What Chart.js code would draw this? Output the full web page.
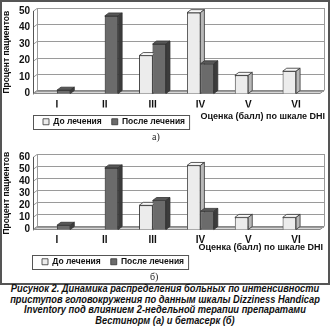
<!DOCTYPE html>
<html>
<head>
<meta charset="utf-8">
<script src="https://cdn.jsdelivr.net/npm/chart.js@4/dist/chart.umd.min.js"></script>
<style>
body { margin: 0; background: #fff; width: 330px; height: 328px; overflow: hidden; position: relative; font-family: "Liberation Sans", Arial, sans-serif; }
#frame { position: absolute; left: 0; top: 0; width: 330px; height: 285px; box-sizing: border-box; border: 2px solid #555; }
canvas { position: absolute; left: 0; }
#chartA { top: 0; }
#chartB { top: 142px; }
.sub { position: absolute; font: 10px "Liberation Serif", serif; color: #222; }
#cap { position: absolute; left: -20px; top: 284px; width: 370px; text-align: center; white-space: nowrap; font: italic bold 10px "Liberation Sans", Arial, sans-serif; line-height: 10.5px; color: #111; transform: scaleX(0.93); transform-origin: 185px 0; }
</style>
</head>
<body>
<div id="frame"></div>
<canvas id="chartA" width="330" height="136"></canvas>
<canvas id="chartB" width="330" height="134"></canvas>
<div class="sub" style="left:152px;top:131px">а)</div>
<div class="sub" style="left:150px;top:271px">б)</div>
<div id="cap">Рисунок 2. Динамика распределения больных по интенсивности<br>приступов головокружения по данным шкалы Dizziness Handicap<br>Inventory под влиянием 2-недельной терапии препаратами<br>Вестинорм (а) и бетасерк (б)</div>
<script>
const categories = ['I', 'II', 'III', 'IV', 'V', 'VI']
const seriesNames = ['До лечения', 'После лечения']
const beforeA = [0, 0, 23, 49, 11, 13.5]
const afterA = [2, 47, 30, 18, 0, 0]
const beforeB = [0, 0, 20, 53, 10, 10]
const afterB = [3.5, 51, 24, 15, 0, 0]
const ticksA = [0, 10, 20, 30, 40, 50]
const ticksB = [0, 10, 20, 30, 40, 50, 60]
const yTitle = 'Процент пациентов'
const xTitle = 'Оценка (балл) по шкале DHI'

Chart.defaults.font.family = '"Liberation Sans", Arial, sans-serif'
Chart.defaults.color = '#111'

const light = { front: '#ececec', top: '#f8f8f8', side: '#b8b8b8' }
const dark = { front: '#6b6b6b', top: '#585858', side: '#3c3c3c' }
const DX = 4
const DY = 3

function poly(ctx, pts, fill) {
	ctx.beginPath()
	ctx.moveTo(pts[0][0], pts[0][1])
	pts.slice(1).forEach(p => ctx.lineTo(p[0], p[1]))
	ctx.closePath()
	ctx.fillStyle = fill
	ctx.fill()
	ctx.stroke()
}

// walls, floor and the 3d sides of the columns
const depth = {
	id: 'depth',
	afterLayout(chart) {
		const lg = chart.legend
		const w = lg.right - lg.left
		lg.left = chart.options.plugins.depth.legendX
		lg.right = lg.left + w
	},
	beforeDatasetsDraw(chart) {
		const { ctx, chartArea: a, scales: { y } } = chart
		ctx.save()
		ctx.lineWidth = 1
		ctx.strokeStyle = '#8a8a8a'
		poly(ctx, [[a.left, a.bottom], [a.left + DX, a.bottom - DY], [a.right + DX, a.bottom - DY], [a.right, a.bottom]], '#d6d6d6')
		ctx.strokeStyle = '#9a9a9a'
		y.ticks.forEach(t => {
			const py = Math.round(y.getPixelForValue(t.value)) + 0.5
			ctx.beginPath()
			ctx.moveTo(a.left, py)
			ctx.lineTo(a.left + DX, py - DY)
			ctx.lineTo(a.right + DX, py - DY)
			ctx.stroke()
		})
		ctx.beginPath()
		ctx.moveTo(a.right + DX + 0.5, a.top - DY)
		ctx.lineTo(a.right + DX + 0.5, a.bottom - DY)
		ctx.moveTo(a.left + DX + 0.5, a.top - DY)
		ctx.lineTo(a.left + DX + 0.5, a.bottom - DY)
		ctx.stroke()
		ctx.strokeStyle = '#555'
		ctx.beginPath()
		ctx.moveTo(a.left + 0.5, a.top)
		ctx.lineTo(a.left + 0.5, a.bottom)
		ctx.stroke()
		ctx.restore()
	},
	afterDatasetsDraw(chart) {
		const { ctx } = chart
		ctx.save()
		categories.forEach((cat, j) => {
			chart.data.datasets.forEach((ds, i) => {
				if (!ds.data[j]) return
				const bar = chart.getDatasetMeta(i).data[j]
				const c = ds.faces
				bar.draw(ctx)
				const { x, y, base, width } = bar.getProps(['x', 'y', 'base', 'width'], true)
				const l = x - width / 2
				const r = x + width / 2
				ctx.lineWidth = 0.8
				ctx.strokeStyle = '#333'
				poly(ctx, [[l, y], [l + DX, y - DY], [r + DX, y - DY], [r, y]], c.top)
				poly(ctx, [[r, y], [r + DX, y - DY], [r + DX, base - DY], [r, base]], c.side)
			})
		})
		ctx.restore()
	},
	afterDraw(chart) {
		const { ctx } = chart
		const o = chart.options.plugins.depth
		const boxes = chart.legend.legendHitBoxes
		const last = boxes[boxes.length - 1]
		const cy = last.top + last.height / 2
		ctx.save()
		ctx.strokeStyle = '#555'
		ctx.lineWidth = 1
		ctx.strokeRect(o.legendX + 0.5, Math.round(cy - 7) + 0.5, last.left + last.width + 4 - o.legendX, 14)
		ctx.fillStyle = '#111'
		ctx.font = 'bold 9px "Liberation Sans", Arial, sans-serif'
		ctx.textAlign = 'right'
		ctx.textBaseline = 'middle'
		ctx.fillText(xTitle, o.titleX, o.titleY)
		ctx.restore()
	}
}

function makeChart(id, before, after, ticks, opts) {
	return new Chart(document.getElementById(id), {
		type: 'bar',
		data: {
			labels: categories,
			datasets: [{
				label: seriesNames[0],
				data: before,
				faces: light,
				backgroundColor: light.front,
				borderColor: '#333',
				borderWidth: 0.8
			}, {
				label: seriesNames[1],
				data: after,
				faces: dark,
				backgroundColor: dark.front,
				borderColor: '#333',
				borderWidth: 0.8
			}]
		},
		options: {
			responsive: false,
			animation: false,
			layout: { padding: { left: 2, right: 10, top: opts.top, bottom: 0 } },
			datasets: { bar: { categoryPercentage: 0.56, barPercentage: 1 } },
			plugins: {
				tooltip: { enabled: false },
				depth: opts,
				legend: {
					position: 'bottom',
					align: 'start',
					labels: {
						boxWidth: 6,
						boxHeight: 6,
						padding: 10,
						font: { size: 8.5, weight: 'bold' },
						color: '#111'
					}
				}
			},
			scales: {
				x: {
					grid: { display: false, drawTicks: false },
					border: { display: false },
					ticks: { padding: opts.tickPad, font: { size: 10, weight: 'bold' } },
					afterFit: s => { s.height = opts.xHeight }
				},
				y: {
					min: 0,
					max: ticks[ticks.length - 1],
					grid: { display: false, drawTicks: false },
					border: { display: false },
					afterBuildTicks: s => { s.ticks = ticks.map(v => ({ value: v })) },
					ticks: { padding: 3, autoSkip: false, font: { size: 10, weight: 'bold' } },
					title: { display: true, text: yTitle, padding: 0, font: { size: 8.5, weight: 'bold' } },
					afterFit: s => { s.width = 31 }
				}
			}
		},
		plugins: [depth]
	})
}

makeChart('chartA', beforeA, afterA, ticksA, { top: 11, xHeight: 14, tickPad: 6, legendX: 33, titleX: 325, titleY: 117 })
makeChart('chartB', beforeB, afterB, ticksB, { top: 15, xHeight: 18, tickPad: 5, legendX: 32, titleX: 323, titleY: 106 })
</script>
</body>
</html>
